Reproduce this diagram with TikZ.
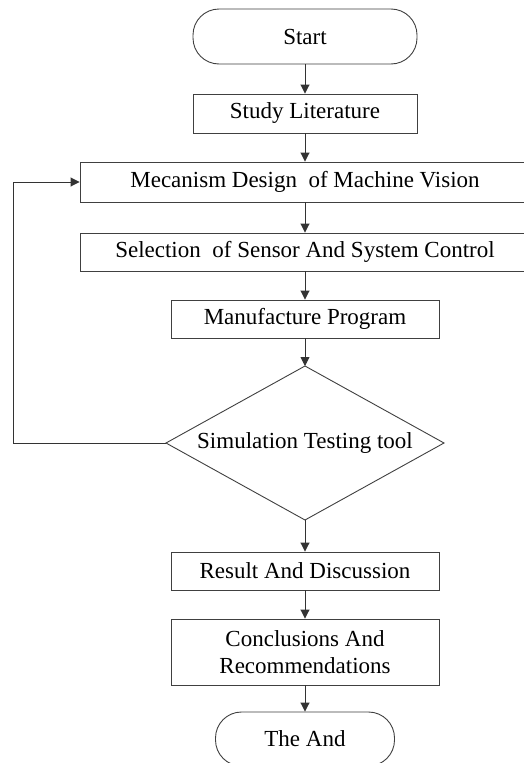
\documentclass[tikz,border=0pt]{standalone}
\usepackage{fontspec}
\setmainfont{Liberation Serif}
\usetikzlibrary{arrows.meta,shapes.geometric}
\begin{document}
\begin{tikzpicture}[x=1pt,y=-1pt,
  box/.style={draw=black!75, line width=0.9pt, rectangle, inner sep=0pt, align=center,
    font=\fontsize{23}{27}\selectfont},
  term/.style={box, rounded corners=26pt},
  arr/.style={draw=black!80, line width=0.9pt, -{Triangle[length=9pt,width=9pt]}}]
\useasboundingbox (0,0) rectangle (524,763);
\clip (0,0) rectangle (524,763);
\fill[white] (0,0) rectangle (524,763);
\node[term, minimum width=224pt, minimum height=55pt] (start) at (305,36.5) {Start};
\node[box, minimum width=224pt, minimum height=39pt] (study) at (305,113.5) {Study Literature};
\node[box, minimum width=450pt, minimum height=40pt] (mech) at (305,182) {Mecanism Design \ of Machine Vision};
\node[box, minimum width=450pt, minimum height=38pt] (sel) at (305,252) {Selection \ of Sensor And System Control};
\node[box, minimum width=268pt, minimum height=38pt] (manu) at (305,319) {Manufacture Program};
\draw[draw=black!75, line width=0.9pt] (305,366) coordinate (dt) -- (444,443) coordinate (dr) -- (305,520) coordinate (db) -- (166,443) coordinate (dl) -- cycle;
\node[font=\fontsize{23}{27}\selectfont] (sim) at (305,443) {Simulation Testing tool};
\node[box, minimum width=268pt, minimum height=38pt] (res) at (305,571) {Result And Discussion};
\node[box, minimum width=268pt, minimum height=66pt] (conc) at (305,652) {Conclusions And\\Recommendations};
\node[term, minimum width=179pt, minimum height=54pt] (end) at (305,739) {The And};
\coordinate (lc1) at (13,443);
\coordinate (lc2) at (13,182);
\draw[arr] (start) -- (study);
\draw[arr] (study) -- (mech);
\draw[arr] (mech) -- (sel);
\draw[arr] (sel) -- (manu);
\draw[arr] (manu) -- (dt);
\draw[arr] (db) -- (res);
\draw[arr] (res) -- (conc);
\draw[arr] (conc) -- (end);
\draw[arr] (dl) -- (lc1) -- (lc2) -- (mech.west);
\end{tikzpicture}
\end{document}
